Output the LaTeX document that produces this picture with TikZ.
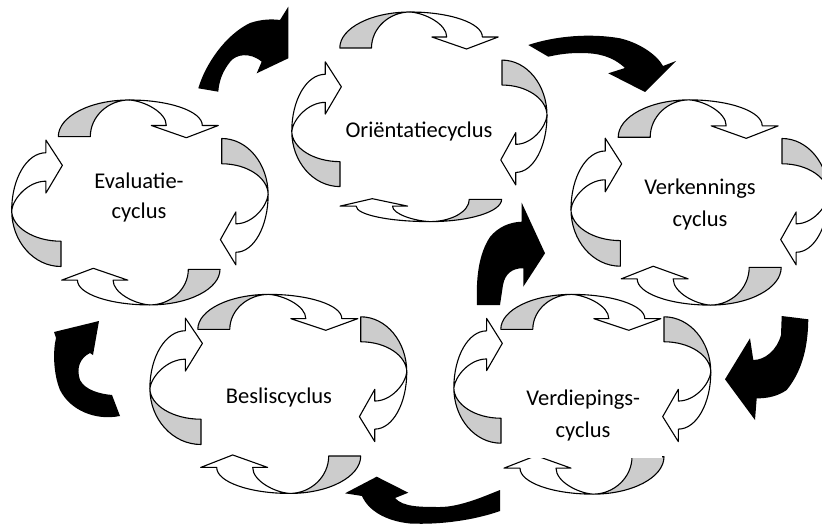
\documentclass[tikz,border=0pt]{standalone}
\usepackage{fontspec}
\setmainfont{Carlito}
\newcommand{\cyarr}[5]{%
\begin{scope}[shift={(#1,#2)},rotate=#3,xscale=#4,yscale=#5]
 \filldraw[cygray] (-80,0) .. controls (-80,-20) and (-48,-36) .. (-9,-36)
   .. controls (-30,-36) and (-48,-20) .. (-48,0) -- cycle;
 \filldraw[cywhite] (-9,-36) .. controls (31,-36) and (64,-25) .. (64,-11)
   -- (80,-11) -- (48,1) -- (13,-11) -- (28,-11)
   .. controls (28,-24) and (6,-35) .. (-9,-36) -- cycle;
\end{scope}}
\begin{document}
\begin{tikzpicture}[x=1pt,y=-1pt,
  cyout/.style={draw=black,line width=1.1pt,line join=round},
  cygray/.style={cyout,fill=black!20},
  cywhite/.style={cyout,fill=white},
  blk/.style={fill=black},
  lbl/.style={font=\fontsize{22.5}{27}\selectfont,anchor=base,inner sep=0pt}]
\useasboundingbox (0,0) rectangle (822,524);

% black connecting arrows
\fill[blk] (198.3,88.3) .. controls (205,65) and (225,35) .. (250,23)
  .. controls (262,19) and (272,19) .. (280,20) -- (288.3,6.7) -- (288.3,58.3)
  -- (256.7,73.3) -- (261.7,61.7) .. controls (250,52) and (236,54) .. (230,62)
  .. controls (222,72) and (219,82) .. (218.3,91.7) -- cycle;
\fill[blk] (528.3,45) .. controls (555,36) and (590,33) .. (620,38.3)
  .. controls (640,43) and (657,55) .. (663,66) -- (676,61) -- (645,92)
  -- (608.3,73.3) -- (625,68) .. controls (612,56) and (598,53) .. (580,53)
  .. controls (566,53) and (556,55) .. (548.3,56.7) -- cycle;
\fill[blk] (477,305) .. controls (476,280) and (478,255) .. (490,237)
  .. controls (498,227) and (510,222) .. (521.7,221.7) -- (521.7,202.7)
  -- (545,253.3) -- (523.3,286.7) -- (523.3,268.3)
  .. controls (512,268) and (505,274) .. (503,285) -- (500,305) -- cycle;
\fill[blk] (781.7,316) -- (808.3,319.3) .. controls (808,345) and (803,370) .. (786.7,390)
  .. controls (778,396) and (768,398.5) .. (756.7,398.3) -- (755,420) -- (725,379.3)
  -- (750,338.3) -- (753.3,360) .. controls (765,360) and (777,350) .. (781,335) -- cycle;
\fill[blk] (500,490) .. controls (485,496) and (460,507) .. (440,507)
  .. controls (420,507) and (403,507) .. (395,498) -- (408.3,492.7) -- (376.7,476.7)
  -- (345,493.3) -- (362,496) .. controls (368,510) and (385,521) .. (410,523.5)
  .. controls (440,525) and (475,520) .. (500,511) -- cycle;
\fill[blk] (120,416) .. controls (95,421) and (70,410) .. (60,390)
  .. controls (53,373) and (53,350) .. (56,338) -- (54,332) -- (99,321)
  -- (93,355) -- (90,353) .. controls (80,358) and (76,368) .. (80,380)
  .. controls (85,390) and (100,394) .. (112,395) -- cycle;

% Orientatie cycle
\cyarr{419}{48}{0}{0.99}{1.0}
\cyarr{502}{122.5}{-90}{0.78}{1.25}
\cyarr{420.8}{199.3}{180}{1.01}{0.62}
\cyarr{340}{124.2}{90}{0.78}{1.34}
% Evaluatie cycle
\cyarr{138.3}{136.7}{0}{1.0}{1.02}
\cyarr{221.7}{201.7}{-90}{0.79}{1.29}
\cyarr{140.8}{269.3}{180}{0.99}{0.99}
\cyarr{61}{203.3}{90}{0.79}{1.37}
% Verkennings cycle
\cyarr{698.2}{137.3}{0}{1.0}{1.04}
\cyarr{782}{201.7}{-90}{0.79}{1.29}
\cyarr{701.2}{267.3}{180}{1.0}{1.05}
\cyarr{620.3}{202.2}{90}{0.8}{1.37}
% Beslis cycle
\cyarr{277.8}{329.3}{0}{1.0}{0.97}
\cyarr{360.7}{379.2}{-90}{0.78}{1.28}
\cyarr{280.7}{456}{180}{1.0}{1.04}
\cyarr{201}{381.3}{90}{0.79}{1.42}
% Verdiepings cycle
\cyarr{580.8}{329.3}{0}{1.0}{0.97}
\cyarr{664}{379.2}{-90}{0.78}{1.3}
\cyarr{584}{456.7}{180}{1.0}{1.04}
\cyarr{501}{380.8}{90}{0.78}{1.31}

% text box backgrounds
\fill[white] (622,170) rectangle (780,248);
\fill[white] (202,360) rectangle (358,432);
\fill[white] (502,350) rectangle (662,458);

% labels
\node[lbl] (torient) at (419,137.5) {Oriëntatiecyclus};
\node[lbl] (teval1) at (139,189) {Evaluatie-};
\node[lbl] (teval2) at (139,218.5) {cyclus};
\node[lbl] (tverk1) at (700,194.3) {Verkennings};
\node[lbl] (tverk2) at (700,226.7) {cyclus};
\node[lbl] (tbeslis) at (279,403.5) {Besliscyclus};
\node[lbl] (tverd1) at (583.3,405) {Verdiepings-};
\node[lbl] (tverd2) at (583,437.5) {cyclus};
\end{tikzpicture}
\end{document}
